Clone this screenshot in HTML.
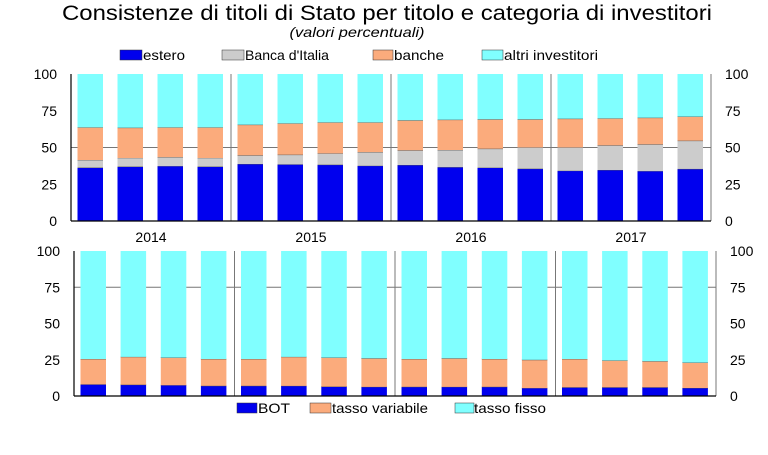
<!DOCTYPE html>
<html><head><meta charset="utf-8"><style>
html,body{margin:0;padding:0;background:#fff;width:768px;height:455px;overflow:hidden}
svg{display:block;font-family:"Liberation Sans",Arial,sans-serif}
</style></head><body>
<svg id="s" width="768" height="455" viewBox="0 0 768 455" xmlns="http://www.w3.org/2000/svg">
<text x="387" y="20" font-size="21" text-anchor="middle" textLength="650" lengthAdjust="spacingAndGlyphs">Consistenze di titoli di Stato per titolo e categoria di investitori</text>
<text x="357" y="37" font-size="14" font-style="italic" text-anchor="middle" textLength="135" lengthAdjust="spacingAndGlyphs">(valori percentuali)</text>
<g font-size="14">
<rect x="120" y="50" width="22" height="10" fill="#0000ee" stroke="#333" stroke-width="0.5"/><text x="143" y="60" textLength="42" lengthAdjust="spacingAndGlyphs">estero</text>
<rect x="222" y="50" width="22" height="10" fill="#cccccc" stroke="#333" stroke-width="0.5"/><text x="245" y="60" textLength="84" lengthAdjust="spacingAndGlyphs">Banca d'Italia</text>
<rect x="373" y="50" width="20" height="10" fill="#fbab7c" stroke="#333" stroke-width="0.5"/><text x="394" y="60" textLength="50" lengthAdjust="spacingAndGlyphs">banche</text>
<rect x="482" y="50" width="21" height="10" fill="#80ffff" stroke="#333" stroke-width="0.5"/><text x="504" y="60" textLength="94" lengthAdjust="spacingAndGlyphs">altri investitori</text>
<rect x="237" y="403" width="20" height="10" fill="#0000ee" stroke="#333" stroke-width="0.5"/><text x="258" y="413" textLength="32" lengthAdjust="spacingAndGlyphs">BOT</text>
<rect x="310" y="403" width="21" height="10" fill="#fbab7c" stroke="#333" stroke-width="0.5"/><text x="332" y="413" textLength="96" lengthAdjust="spacingAndGlyphs">tasso variabile</text>
<rect x="455" y="403" width="19" height="10" fill="#80ffff" stroke="#333" stroke-width="0.5"/><text x="474" y="413" textLength="72" lengthAdjust="spacingAndGlyphs">tasso fisso</text>
</g>
</svg>
<script>
var s=document.getElementById('s'),h='';
var cols=['#0000ee','#cccccc','#fbab7c','#80ffff'];
var topData=[[36.3,41.5,63.7],[37,42.9,63.5],[37.4,43.5,63.7],[37,42.9,63.7],
[38.8,44.7,65.5],[38.5,45.1,66.4],[38.3,46,67.1],[37.6,46.9,67.1],
[38.1,48.1,68.5],[36.7,48.3,68.9],[36.3,49.2,69.2],[35.6,50.1,69.2],
[34.2,50.1,69.6],[34.7,51.5,69.8],[34,52.2,70.3],[35.4,54.6,71]];
var botData=[[8,25.5],[7.8,27],[7.5,26.5],[7,25.5],[7,25.5],[7,27],[6.5,26.5],[6.3,26],[6.3,25.5],[6.3,26],[6.3,25.5],[5.5,25],[6,25.5],[6,24.5],[6,24],[5.5,23]];
function chart(x0,x1,y0,y1,data,c,grid,years){
 var W=x1-x0,sl=W/16,H=y1-y0;
 h+='<line x1="'+x0+'" x2="'+x1+'" y1="'+(y1-H*grid/100)+'" y2="'+(y1-H*grid/100)+'" stroke="#777" stroke-width="1"/>';
 data.forEach(function(d,i){
  var bx=x0+i*sl+6.5,prev=0,vals=d.concat([100]);
  vals.forEach(function(v,k){
   var ya=y1-H*v/100,yb=y1-H*prev/100;
   h+='<rect x="'+bx.toFixed(1)+'" y="'+ya.toFixed(1)+'" width="25.5" height="'+(yb-ya).toFixed(1)+'" fill="'+c[k]+'"/>';
   if(k<vals.length-1)h+='<line x1="'+bx.toFixed(1)+'" x2="'+(bx+25.5).toFixed(1)+'" y1="'+ya.toFixed(1)+'" y2="'+ya.toFixed(1)+'" stroke="#555" stroke-width="0.8"/>';
   prev=v;});
 });
 for(var g=1;g<4;g++){var gx=x0+g*W/4;h+='<line x1="'+gx+'" x2="'+gx+'" y1="'+y0+'" y2="'+y1+'" stroke="#777" stroke-width="1"/>';}
 h+='<line x1="'+x1+'" x2="'+x1+'" y1="'+y0+'" y2="'+y1+'" stroke="#777" stroke-width="1"/>';
 h+='<line x1="'+x0+'" x2="'+x0+'" y1="'+y0+'" y2="'+y1+'" stroke="#000" stroke-width="1.2"/>';
 h+='<line x1="'+x0+'" x2="'+x1+'" y1="'+y1+'" y2="'+y1+'" stroke="#000" stroke-width="1.2"/>';
 [0,25,50,75,100].forEach(function(t){var ty=y1-H*t/100+5;
  h+='<text x="'+(x0-14)+'" y="'+ty+'" font-size="14" text-anchor="end">'+t+'</text>';
  h+='<text x="'+(x1+14)+'" y="'+ty+'" font-size="14">'+t+'</text>';});
 if(years)['2014','2015','2016','2017'].forEach(function(yr,j){
  h+='<text x="'+(x0+W/8+j*W/4)+'" y="'+(y1+21)+'" font-size="14" text-anchor="middle">'+yr+'</text>';});
}
chart(71,711,74,221,topData,cols,50,true);
chart(74,716,251,396,botData,[cols[0],cols[2],cols[3]],75,false);
s.insertAdjacentHTML('beforeend',h);
</script>
</body></html>
